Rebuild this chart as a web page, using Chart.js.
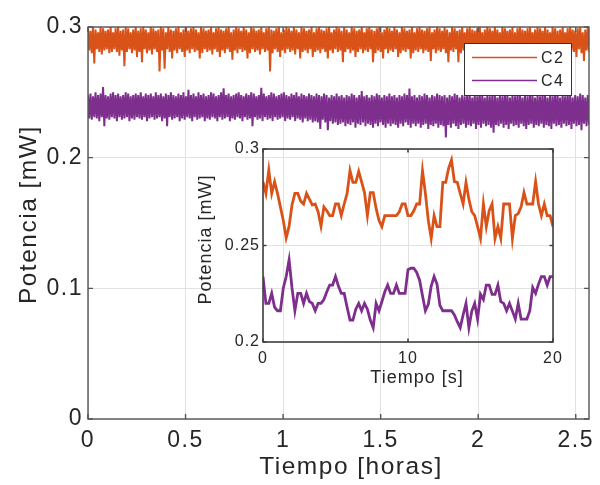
<!DOCTYPE html>
<html>
<head>
<meta charset="utf-8">
<title>Potencia C2 / C4</title>
<script src="https://cdn.jsdelivr.net/npm/chart.js@4.4.1/dist/chart.umd.min.js"></script>
<style>
  html, body { margin: 0; padding: 0; background: #fff; }
  #wrap { position: relative; width: 600px; height: 485px; overflow: hidden; }
  #main { position: absolute; left: 0; top: 0; width: 600px; height: 485px; }
  #inset { position: absolute; left: 190px; top: 130px; width: 390px; height: 265px; }
</style>
</head>
<body>
<div id="wrap">
  <canvas id="main" width="600" height="485"></canvas>
  <canvas id="inset" width="390" height="265"></canvas>
</div>
<script>
// ---- data -------------------------------------------------------------
const seriesNames = ['C2', 'C4'];

// long record, hours
const recordHours = 2.568;
const longTicksX = [0, 0.5, 1, 1.5, 2, 2.5];
const longTicksY = [0, 0.1, 0.2, 0.3];

const c2Long = [
  0.299,0.282,0.297,0.280,0.300,0.272,0.298,0.283,0.296,0.281,0.300,0.279,0.299,0.282,0.297,0.283,0.298,0.280,0.300,0.281,
  0.296,0.283,0.299,0.281,0.300,0.278,0.297,0.282,0.298,0.270,0.300,0.281,0.299,0.283,0.296,0.280,0.298,0.282,0.300,0.277,
  0.297,0.281,0.299,0.273,0.300,0.283,0.298,0.280,0.296,0.282,0.300,0.279,0.299,0.283,0.297,0.281,0.298,0.266,0.300,0.282,
  0.299,0.268,0.296,0.283,0.300,0.281,0.298,0.276,0.297,0.282,0.299,0.280,0.300,0.283,0.296,0.281,0.298,0.277,0.300,0.282,
  0.297,0.280,0.299,0.283,0.300,0.281,0.298,0.282,0.296,0.276,0.300,0.280,0.299,0.283,0.297,0.281,0.298,0.282,0.300,0.279,
  0.296,0.283,0.299,0.281,0.300,0.277,0.298,0.282,0.297,0.280,0.299,0.283,0.300,0.281,0.296,0.275,0.298,0.282,0.300,0.280,
  0.299,0.283,0.297,0.281,0.300,0.282,0.298,0.276,0.296,0.280,0.300,0.283,0.299,0.281,0.297,0.282,0.298,0.279,0.300,0.283,
  0.296,0.281,0.299,0.282,0.300,0.266,0.298,0.280,0.297,0.283,0.299,0.281,0.300,0.277,0.296,0.282,0.298,0.280,0.300,0.283,
  0.299,0.281,0.297,0.282,0.300,0.279,0.298,0.283,0.296,0.276,0.300,0.281,0.299,0.282,0.297,0.280,0.298,0.283,0.300,0.277,
  0.296,0.281,0.299,0.282,0.300,0.280,0.298,0.283,0.297,0.281,0.299,0.276,0.300,0.282,0.296,0.280,0.298,0.283,0.300,0.281,
  0.299,0.282,0.297,0.273,0.300,0.281,0.298,0.283,0.296,0.280,0.300,0.282,0.299,0.277,0.297,0.281,0.298,0.283,0.300,0.280,
  0.296,0.282,0.299,0.281,0.300,0.283,0.298,0.273,0.297,0.280,0.299,0.282,0.300,0.281,0.296,0.276,0.298,0.283,0.300,0.280,
  0.299,0.282,0.297,0.281,0.300,0.283,0.298,0.277,0.296,0.280,0.300,0.282,0.299,0.281,0.297,0.283,0.298,0.276,0.300,0.280,
  0.296,0.282,0.299,0.281,0.300,0.283,0.298,0.280,0.297,0.282,0.299,0.281,0.300,0.274,0.296,0.283,0.298,0.280,0.300,0.282,
  0.299,0.281,0.297,0.283,0.300,0.280,0.298,0.273,0.296,0.282,0.300,0.281,0.299,0.283,0.297,0.273,0.298,0.280,0.300,0.282,
  0.296,0.281,0.299,0.283,0.300,0.277,0.298,0.280,0.297,0.282,0.299,0.281,0.300,0.283,0.296,0.276,0.298,0.280,0.300,0.282,
  0.299,0.281,0.297,0.283,0.300,0.280,0.298,0.282,0.296,0.277,0.300,0.281,0.299,0.283,0.297,0.280,0.298,0.282,0.300,0.276,
  0.296,0.281,0.299,0.283,0.300,0.280,0.298,0.282,0.297,0.281,0.299,0.277,0.300,0.283,0.296,0.280,0.298,0.282,0.300,0.281,
  0.299,0.283,0.297,0.280,0.300,0.276,0.298,0.282,0.296,0.281,0.300,0.283,0.299,0.280,0.297,0.277,0.298,0.282,0.300,0.281,
  0.296,0.283,0.299,0.280,0.300,0.282,0.298,0.281,0.297,0.277,0.299,0.283,0.300,0.280,0.296,0.274,0.298,0.282,0.300,0.281
];

const c4Long = [
  0.248,0.230,0.249,0.229,0.247,0.231,0.250,0.230,0.248,0.228,0.249,0.231,0.254,0.224,0.248,0.230,0.247,0.229,0.249,0.231,
  0.250,0.230,0.248,0.228,0.249,0.231,0.247,0.229,0.248,0.230,0.250,0.231,0.249,0.228,0.247,0.230,0.248,0.229,0.249,0.231,
  0.248,0.230,0.250,0.229,0.247,0.231,0.249,0.228,0.248,0.230,0.249,0.231,0.247,0.229,0.250,0.230,0.248,0.231,0.249,0.228,
  0.247,0.230,0.249,0.224,0.248,0.231,0.250,0.229,0.248,0.230,0.247,0.231,0.249,0.228,0.248,0.230,0.250,0.229,0.247,0.231,
  0.252,0.230,0.248,0.228,0.249,0.231,0.247,0.229,0.250,0.230,0.248,0.231,0.249,0.228,0.247,0.230,0.248,0.229,0.250,0.231,
  0.249,0.230,0.247,0.228,0.248,0.231,0.250,0.229,0.253,0.230,0.248,0.231,0.249,0.228,0.247,0.230,0.248,0.229,0.249,0.231,
  0.250,0.230,0.248,0.228,0.247,0.231,0.249,0.229,0.248,0.230,0.250,0.224,0.249,0.231,0.247,0.229,0.248,0.230,0.2535,0.228,
  0.249,0.231,0.247,0.229,0.248,0.230,0.250,0.228,0.249,0.231,0.247,0.229,0.248,0.230,0.249,0.231,0.250,0.228,0.248,0.230,
  0.247,0.229,0.249,0.231,0.248,0.228,0.250,0.230,0.247,0.229,0.249,0.227,0.248,0.230,0.247,0.228,0.249,0.229,0.248,0.227,
  0.247,0.228,0.249,0.227,0.248,0.222,0.247,0.229,0.249,0.227,0.248,0.221,0.246,0.228,0.248,0.226,0.247,0.227,0.249,0.225,
  0.247,0.226,0.248,0.227,0.246,0.224,0.248,0.226,0.247,0.225,0.249,0.227,0.248,0.223,0.246,0.226,0.248,0.225,0.251,0.227,
  0.247,0.224,0.248,0.226,0.246,0.225,0.248,0.223,0.247,0.226,0.249,0.224,0.248,0.227,0.246,0.225,0.248,0.223,0.247,0.226,
  0.249,0.224,0.247,0.226,0.248,0.225,0.246,0.223,0.248,0.226,0.247,0.224,0.249,0.227,0.248,0.225,0.253,0.223,0.247,0.226,
  0.248,0.224,0.246,0.226,0.248,0.223,0.247,0.225,0.249,0.226,0.248,0.222,0.246,0.225,0.248,0.224,0.247,0.226,0.249,0.223,
  0.248,0.225,0.247,0.224,0.248,0.2155,0.246,0.225,0.248,0.223,0.247,0.226,0.249,0.224,0.248,0.222,0.246,0.225,0.248,0.226,
  0.247,0.223,0.249,0.225,0.248,0.224,0.246,0.226,0.248,0.222,0.247,0.225,0.249,0.223,0.248,0.226,0.246,0.224,0.248,0.225,
  0.247,0.223,0.249,0.219,0.248,0.225,0.246,0.224,0.248,0.226,0.247,0.223,0.249,0.225,0.248,0.222,0.246,0.226,0.248,0.224,
  0.247,0.225,0.249,0.223,0.248,0.226,0.246,0.224,0.248,0.222,0.247,0.225,0.249,0.226,0.248,0.223,0.246,0.225,0.248,0.224,
  0.247,0.226,0.249,0.223,0.248,0.225,0.246,0.224,0.248,0.222,0.247,0.226,0.249,0.224,0.248,0.225,0.246,0.223,0.248,0.226,
  0.247,0.224,0.249,0.225,0.248,0.222,0.246,0.226,0.248,0.224,0.247,0.225,0.249,0.221,0.248,0.226,0.246,0.224,0.248,0.225
];

// 20 s detail, one sample every 0.2 s
const shortStepSeconds = 0.2;
const shortTicksX = [0, 10, 20];
const shortTicksY = [0.2, 0.25, 0.3];

const c2Short = [
  0.283,0.277,0.289,0.277,0.283,0.277,0.270,0.263,0.254,0.260,
  0.271,0.277,0.277,0.273,0.2715,0.277,0.274,0.271,0.2715,0.2675,
  0.260,0.270,0.268,0.2655,0.2655,0.2715,0.2715,0.2655,0.2715,0.277,
  0.2888,0.2827,0.2827,0.2884,0.283,0.2774,0.2655,0.2774,0.2774,0.2692,
  0.263,0.2598,0.2655,0.2655,0.2655,0.2655,0.2655,0.2675,0.2715,0.2715,
  0.2655,0.2655,0.268,0.2715,0.2715,0.2888,0.277,0.263,0.2537,0.2655,
  0.2598,0.2598,0.2827,0.2827,0.290,0.2943,0.2831,0.2827,0.277,0.2715,
  0.2827,0.274,0.2675,0.2655,0.2598,0.2537,0.2715,0.2598,0.268,0.2715,
  0.2537,0.2598,0.2537,0.2715,0.2715,0.2715,0.2537,0.2655,0.2665,0.270,
  0.2774,0.2715,0.2715,0.2715,0.2831,0.2715,0.2655,0.2715,0.2655,0.2655,
  0.2598
];

const c4Short = [
  0.2339,0.220,0.220,0.2252,0.218,0.2162,0.2162,0.228,0.2339,0.2425,
  0.228,0.2162,0.2252,0.2252,0.220,0.2252,0.221,0.220,0.2162,0.220,
  0.220,0.222,0.226,0.2295,0.2295,0.2339,0.229,0.2252,0.2252,0.218,
  0.2114,0.2114,0.217,0.220,0.2162,0.220,0.217,0.2114,0.2074,0.220,
  0.2162,0.221,0.226,0.2295,0.2252,0.2252,0.2295,0.2252,0.2252,0.2252,
  0.2375,0.2382,0.2382,0.236,0.232,0.224,0.2162,0.2195,0.229,0.2339,
  0.230,0.219,0.2162,0.2162,0.2162,0.2162,0.214,0.2105,0.2074,0.214,
  0.220,0.2074,0.216,0.220,0.2119,0.2247,0.222,0.2295,0.2295,0.2247,
  0.2247,0.2295,0.2209,0.220,0.2162,0.220,0.216,0.2119,0.220,0.2119,
  0.2119,0.2119,0.2162,0.2282,0.2252,0.230,0.2339,0.2339,0.2295,0.2339,
  0.2339
];

// ---- styling ----------------------------------------------------------
const seriesColors = ['#D95319', '#7E2F8E'];
const FONT = "'Liberation Sans', Arial, Helvetica, sans-serif";
const INK = '#262626';
const GRID = '#e2e2e2';
const FRAME = '#555555';

const toPoints = (values, step) => values.map((v, i) => ({ x: i * step, y: v }));
const fmt = v => String(Math.round(v * 1000) / 1000);
const fixedTicks = list => scale => { scale.ticks = list.map(v => ({ value: v })); };

// letter spacing for all canvas text
const textSpacing = {
  id: 'textSpacing',
  beforeDraw(chart, args, opts) { chart.ctx.letterSpacing = opts.value; }
};

// box around the plot with inward tick marks on all four sides
const boxTicks = {
  id: 'boxTicks',
  afterDatasetsDraw(chart, args, opts) {
    const { ctx, chartArea: a, scales: { x, y } } = chart;
    const len = opts.length;
    ctx.save();
    ctx.strokeStyle = opts.color;
    ctx.lineWidth = opts.width;
    ctx.beginPath();
    x.ticks.forEach(t => {
      const px = x.getPixelForValue(t.value);
      ctx.moveTo(px, a.bottom); ctx.lineTo(px, a.bottom - len);
      ctx.moveTo(px, a.top); ctx.lineTo(px, a.top + len);
    });
    y.ticks.forEach(t => {
      const py = y.getPixelForValue(t.value);
      ctx.moveTo(a.left, py); ctx.lineTo(a.left + len, py);
      ctx.moveTo(a.right, py); ctx.lineTo(a.right - len, py);
    });
    ctx.stroke();
    ctx.strokeRect(a.left, a.top, a.right - a.left, a.bottom - a.top);
    ctx.restore();
  }
};

// framed legend in the upper right corner of the plot
const boxedLegend = {
  id: 'boxedLegend',
  afterDatasetsDraw(chart, args, o) {
    const { ctx, chartArea: a } = chart;
    const left = a.right - o.right - o.w;
    const top = a.top + o.top;
    ctx.save();
    ctx.fillStyle = '#fff';
    ctx.fillRect(left, top, o.w, o.h);
    ctx.strokeStyle = '#333';
    ctx.lineWidth = 1;
    ctx.strokeRect(left + 0.5, top + 0.5, o.w, o.h);
    ctx.font = o.size + 'px ' + FONT;
    ctx.textBaseline = 'middle';
    ctx.textAlign = 'left';
    chart.data.datasets.forEach((ds, i) => {
      const cy = top + o.row0 + i * o.rowGap;
      ctx.strokeStyle = ds.borderColor;
      ctx.lineWidth = 1.6;
      ctx.beginPath();
      ctx.moveTo(left + o.lineX, cy);
      ctx.lineTo(left + o.lineX + o.lineLen, cy);
      ctx.stroke();
      ctx.fillStyle = INK;
      ctx.fillText(ds.label, left + o.textX, cy + 1);
    });
    ctx.restore();
  }
};

// ---- main chart: full record ------------------------------------------
const longStep = recordHours / (c2Long.length - 1);

new Chart(document.getElementById('main'), {
  type: 'line',
  data: {
    datasets: [
      { label: seriesNames[0], data: toPoints(c2Long, longStep), borderColor: seriesColors[0],
        borderWidth: 2, pointRadius: 0, tension: 0, clip: 0 },
      { label: seriesNames[1], data: toPoints(c4Long, longStep), borderColor: seriesColors[1],
        borderWidth: 2, pointRadius: 0, tension: 0, clip: 0 }
    ]
  },
  options: {
    responsive: false,
    animation: false,
    events: [],
    layout: { padding: { top: 27, right: 10, left: 0, bottom: 0 } },
    plugins: {
      legend: { display: false },
      tooltip: { enabled: false },
      textSpacing: { value: '1.5px' },
      boxTicks: { length: 5, color: FRAME, width: 1.4 },
      boxedLegend: { w: 107, h: 52, right: 18, top: 16, row0: 14.5, rowGap: 23,
                     lineX: 8, lineLen: 65, textX: 77, size: 16 }
    },
    scales: {
      x: {
        type: 'linear', min: 0, max: recordHours,
        afterBuildTicks: fixedTicks(longTicksX),
        afterFit: s => { s.height = 66; },
        grid: { color: GRID, drawTicks: false, lineWidth: 1 },
        border: { display: false },
        ticks: { padding: 8, color: INK, autoSkip: false, maxRotation: 0,
                 font: { family: FONT, size: 23 }, callback: fmt },
        title: { display: true, text: '   Tiempo [horas]', color: INK,
                 font: { family: FONT, size: 24.5 }, padding: { top: 0, bottom: 3 } }
      },
      y: {
        type: 'linear', min: 0, max: 0.3,
        afterBuildTicks: fixedTicks(longTicksY),
        afterFit: s => { s.width = 88; },
        grid: { color: GRID, drawTicks: false, lineWidth: 1 },
        border: { display: false },
        ticks: { padding: 5, color: INK, font: { family: FONT, size: 23 }, callback: fmt },
        title: { display: true, text: '  Potencia [mW]', color: INK,
                 font: { family: FONT, size: 24.5 }, padding: { top: 15, bottom: 0 } }
      }
    }
  },
  plugins: [textSpacing, boxTicks, boxedLegend]
});

// ---- inset chart: first 20 seconds ------------------------------------
new Chart(document.getElementById('inset'), {
  type: 'line',
  data: {
    datasets: [
      { label: seriesNames[0], data: toPoints(c2Short, shortStepSeconds), borderColor: seriesColors[0],
        borderWidth: 2.8, pointRadius: 0, tension: 0, clip: 0 },
      { label: seriesNames[1], data: toPoints(c4Short, shortStepSeconds), borderColor: seriesColors[1],
        borderWidth: 2.8, pointRadius: 0, tension: 0, clip: 0 }
    ]
  },
  options: {
    responsive: false,
    animation: false,
    events: [],
    layout: { padding: { top: 19, right: 27, left: 0, bottom: 0 } },
    plugins: {
      legend: { display: false },
      tooltip: { enabled: false },
      textSpacing: { value: '1px' },
      boxTicks: { length: 3.5, color: '#404040', width: 1.6 }
    },
    scales: {
      x: {
        type: 'linear', min: 0, max: 20,
        afterBuildTicks: fixedTicks(shortTicksX),
        afterFit: s => { s.height = 53; },
        grid: { color: GRID, drawTicks: false, lineWidth: 1 },
        border: { display: false },
        ticks: { padding: 7, color: INK, autoSkip: false, maxRotation: 0,
                 font: { family: FONT, size: 16 }, callback: fmt },
        title: { display: true, text: '   Tiempo [s]', color: INK,
                 font: { family: FONT, size: 18 }, padding: { top: 0, bottom: 6 } }
      },
      y: {
        type: 'linear', min: 0.2, max: 0.3,
        afterBuildTicks: fixedTicks(shortTicksY),
        afterFit: s => { s.width = 73; },
        grid: { color: GRID, drawTicks: false, lineWidth: 1 },
        border: { display: false },
        ticks: { padding: 3, color: INK, font: { family: FONT, size: 16 }, callback: fmt },
        title: { display: true, text: '  Potencia [mW]', color: INK,
                 font: { family: FONT, size: 18 }, padding: { top: 5, bottom: 0 } }
      }
    }
  },
  plugins: [textSpacing, boxTicks]
});
</script>
</body>
</html>
